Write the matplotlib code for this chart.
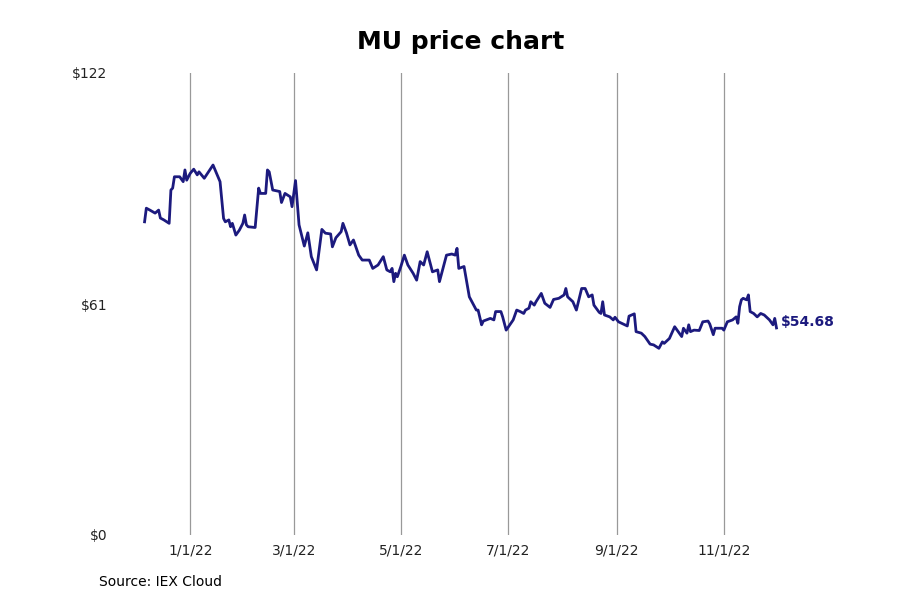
import matplotlib
matplotlib.use("Agg")
import matplotlib.pyplot as plt
import matplotlib.dates as mdates
import pandas as pd

# MU closing prices (Dec 2021 - Dec 2022)
dates = [
    "2021-12-06", "2021-12-07", "2021-12-09", "2021-12-12", "2021-12-14", "2021-12-15",
    "2021-12-17", "2021-12-20", "2021-12-21", "2021-12-22", "2021-12-23", "2021-12-26",
    "2021-12-28", "2021-12-29", "2021-12-30", "2022-01-01", "2022-01-03", "2022-01-05",
    "2022-01-06", "2022-01-09", "2022-01-14", "2022-01-18", "2022-01-20", "2022-01-21",
    "2022-01-23", "2022-01-24", "2022-01-25", "2022-01-27", "2022-01-29", "2022-01-31",
    "2022-02-01", "2022-02-02", "2022-02-03", "2022-02-07", "2022-02-09", "2022-02-10",
    "2022-02-13", "2022-02-14", "2022-02-15", "2022-02-17", "2022-02-21", "2022-02-22",
    "2022-02-24", "2022-02-27", "2022-02-28", "2022-03-02", "2022-03-04", "2022-03-07",
    "2022-03-09", "2022-03-11", "2022-03-14", "2022-03-17", "2022-03-19", "2022-03-22",
    "2022-03-23", "2022-03-25", "2022-03-28", "2022-03-29", "2022-03-31", "2022-04-02",
    "2022-04-04", "2022-04-07", "2022-04-09", "2022-04-13", "2022-04-15", "2022-04-18",
    "2022-04-21", "2022-04-23", "2022-04-25", "2022-04-26", "2022-04-27", "2022-04-28",
    "2022-04-29", "2022-05-01", "2022-05-03", "2022-05-05", "2022-05-08", "2022-05-10",
    "2022-05-12", "2022-05-14", "2022-05-16", "2022-05-19", "2022-05-22", "2022-05-23",
    "2022-05-27", "2022-05-30", "2022-06-01", "2022-06-02", "2022-06-03", "2022-06-06",
    "2022-06-09", "2022-06-13", "2022-06-14", "2022-06-16", "2022-06-17", "2022-06-21",
    "2022-06-23", "2022-06-24", "2022-06-27", "2022-06-28", "2022-06-30", "2022-07-04",
    "2022-07-06", "2022-07-08", "2022-07-10", "2022-07-11", "2022-07-13", "2022-07-14",
    "2022-07-16", "2022-07-17", "2022-07-20", "2022-07-22", "2022-07-25", "2022-07-27",
    "2022-07-30", "2022-08-02", "2022-08-03", "2022-08-04", "2022-08-07", "2022-08-09",
    "2022-08-12", "2022-08-14", "2022-08-16", "2022-08-18", "2022-08-19", "2022-08-22",
    "2022-08-23", "2022-08-24", "2022-08-25", "2022-08-28", "2022-08-30", "2022-08-31",
    "2022-09-02", "2022-09-07", "2022-09-08", "2022-09-11", "2022-09-12", "2022-09-15",
    "2022-09-17", "2022-09-20", "2022-09-22", "2022-09-25", "2022-09-27", "2022-09-28",
    "2022-10-01", "2022-10-04", "2022-10-06", "2022-10-08", "2022-10-09", "2022-10-11",
    "2022-10-12", "2022-10-13", "2022-10-15", "2022-10-18", "2022-10-20", "2022-10-23",
    "2022-10-24", "2022-10-26", "2022-10-27", "2022-10-31", "2022-11-01", "2022-11-03",
    "2022-11-06", "2022-11-08", "2022-11-09", "2022-11-10", "2022-11-11", "2022-11-12",
    "2022-11-14", "2022-11-15", "2022-11-16", "2022-11-18", "2022-11-20", "2022-11-22",
    "2022-11-24", "2022-11-27", "2022-11-29", "2022-11-30", "2022-12-01",
]
prices = [
    82.7, 86.3, 85.8, 85.0, 85.8, 83.7,
    83.2, 82.3, 91.1, 91.6, 94.6, 94.6,
    93.3, 96.4, 93.7, 95.5, 96.6, 95.1,
    95.9, 94.2, 97.7, 93.3, 83.6, 82.7,
    83.2, 81.4, 82.3, 79.2, 80.5, 82.3,
    84.5, 81.9, 81.4, 81.2, 91.6, 90.2,
    90.2, 96.4, 95.9, 91.1, 90.7, 87.8,
    90.2, 89.3, 86.7, 93.6, 81.9, 76.3,
    79.8, 73.5, 70.0, 80.7, 79.7, 79.5,
    76.1, 78.5, 80.1, 82.3, 79.8, 76.6,
    77.9, 73.9, 72.6, 72.6, 70.4, 71.3,
    73.5, 70.0, 69.5, 70.4, 66.9, 69.1,
    68.2, 70.9, 73.9, 71.3, 69.1, 67.3,
    72.2, 71.3, 74.8, 69.5, 70.0, 66.9,
    73.9, 74.2, 73.9, 75.7, 70.4, 70.9,
    62.9, 59.4, 59.4, 55.5, 56.5, 57.2,
    56.8, 59.0, 59.0, 57.6, 54.1, 56.8,
    59.4, 59.0, 58.5, 59.4, 59.9, 61.6,
    60.7, 61.6, 63.8, 61.2, 60.1, 62.2,
    62.5, 63.4, 65.1, 62.9, 61.6, 59.4,
    65.1, 65.1, 62.9, 63.4, 60.7, 58.8,
    58.5, 61.6, 58.1, 57.6, 56.8, 57.5,
    56.3, 55.2, 57.8, 58.4, 53.7, 53.3,
    52.4, 50.4, 50.2, 49.3, 51.0, 50.6,
    51.9, 55.0, 53.7, 52.4, 54.6, 53.3,
    55.5, 53.7, 54.1, 54.0, 56.3, 56.5,
    55.7, 52.9, 54.6, 54.6, 54.1, 56.3,
    56.8, 57.6, 55.9, 60.3, 62.1, 62.5,
    62.1, 63.4, 59.0, 58.5, 57.6, 58.5,
    58.1, 56.8, 55.5, 57.2, 54.68,
]

y_ticks = [0, 61, 122]
y_labels = ["$0", "$61", "$122"]
x_ticks = ["2022-01-01", "2022-03-01", "2022-05-01", "2022-07-01", "2022-09-01", "2022-11-01"]
x_labels = ["1/1/22", "3/1/22", "5/1/22", "7/1/22", "9/1/22", "11/1/22"]

line_color = "#1c1a7e"

dt = pd.to_datetime(dates)

fig = plt.figure(figsize=(9, 6), dpi=100)
ax = fig.add_axes([120 / 900, 65 / 600, 660 / 900, 462 / 600])

ax.plot(dt, prices, color=line_color, linewidth=2)

# last price label
ax.annotate("$%.2f" % prices[-1], xy=(dt[-1], prices[-1]), xytext=(3, 4),
            textcoords="offset points", va="center", ha="left",
            fontsize=10, fontweight="bold", color=line_color, annotation_clip=False)

origin = mdates.date2num(pd.Timestamp("2022-01-01"))
ax.set_xlim(origin - 40, origin + 336)
ax.set_ylim(0, 122)

ax.set_xticks(pd.to_datetime(x_ticks))
ax.set_xticklabels(x_labels)
ax.set_yticks(y_ticks)
ax.set_yticklabels(y_labels)
ax.tick_params(length=0, labelsize=10, colors="#222222")
ax.tick_params(axis="y", pad=9)
ax.tick_params(axis="x", pad=6)

ax.grid(axis="x", color="#999999", linewidth=0.9)
ax.grid(axis="y", visible=False)
for s in ax.spines.values():
    s.set_visible(False)

fig.text(0.512, 0.93, "MU price chart", ha="center", va="center",
         fontsize=18, fontweight="bold")
fig.text(99 / 900, 1 - 582 / 600, "Source: IEX Cloud", ha="left", va="center", fontsize=10)

fig.savefig("out.png", dpi=100)
